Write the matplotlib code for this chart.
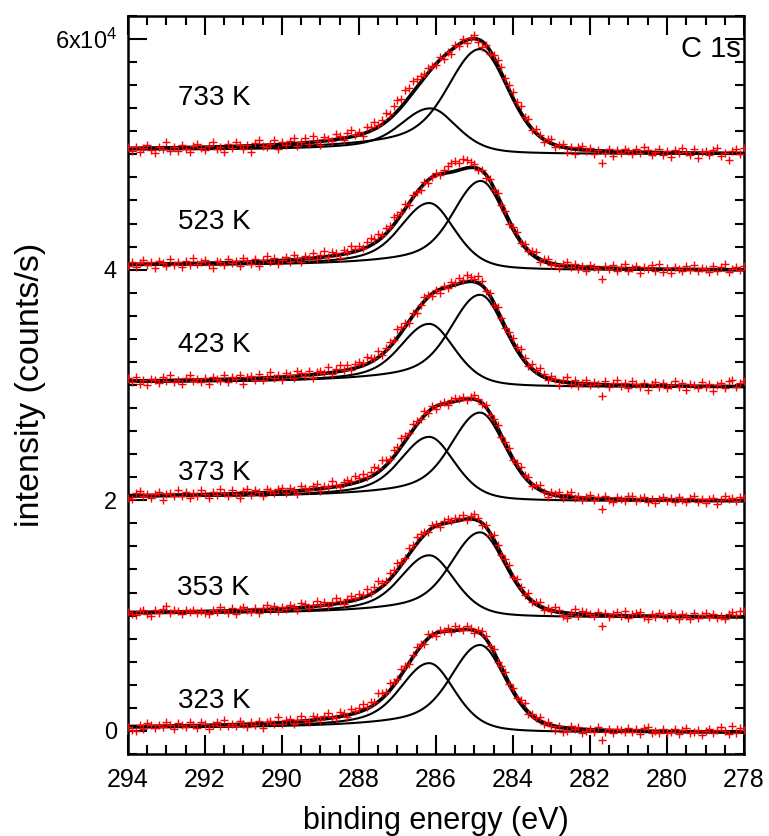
import numpy as np
import matplotlib
matplotlib.use("Agg")
import matplotlib.pyplot as plt
from matplotlib.ticker import MultipleLocator, FixedLocator, FixedFormatter

plt.rcParams['font.family'] = ['Liberation Sans', 'DejaVu Sans']
plt.rcParams['mathtext.fontset'] = 'custom'
plt.rcParams['mathtext.rm'] = 'Liberation Sans'
plt.rcParams['mathtext.it'] = 'Liberation Sans:italic'

# ---------------- data ----------------
temps = ['323 K', '353 K', '373 K', '423 K', '523 K', '733 K']
offsets = [0, 10000, 20000, 30000, 40000, 50000]

# component 1 (~286.1 eV) and component 2 (~284.85 eV): position, height, FWHM
c1_pos = [286.17, 286.17, 286.17, 286.17, 286.17, 286.14]
c1_height = [5780, 5200, 5360, 5230, 5590, 3730]
c1_fwhm = [1.55, 1.55, 1.55, 1.55, 1.55, 1.6]
c2_pos = [284.85, 284.85, 284.85, 284.85, 284.83, 284.85]
c2_height = [7500, 7300, 7600, 7900, 7650, 9000]
c2_fwhm = [1.58, 1.58, 1.58, 1.6, 1.52, 1.75]
# background level at 278 eV and 294 eV relative to offset
bg_low = [-150, -160, -90, -190, -60, 20]
bg_high = [230, 130, 260, 200, 320, 360]

# measured points: residuals from the fit (units of 18 counts), 0.1 eV steps from 294 eV
res323 = [-4,-18,-22,9,-12,14,4,-10,8,-6,18,3,-14,12,6,-8,20,1,-12,15,
          8,-16,3,13,-5,22,-7,4,-9,17,2,-13,10,-4,15,-20,6,12,-3,28,
          -6,11,16,-10,7,24,2,-8,19,12,-4,14,27,6,-2,20,15,-9,24,10,
          18,32,8,22,14,40,26,12,34,20,8,30,16,-4,10,24,12,-8,20,6,
          -12,10,4,16,-6,22,12,-4,18,6,-10,8,20,14,-8,12,-14,6,16,-4,
          10,-6,14,20,-12,8,2,16,-8,12,-4,-18,6,-22,-14,10,-2,8,-16,-6,
          4,-10,12,-48,-8,6,-14,10,2,-6,16,-3,8,-12,14,20,-7,3,-9,11,
          -5,-2,13,-11,6,18,-8,1,10,-13,4,15,-6,9,24,3,-8,28,-4,18,
          10]
res353 = [3,-9,-14,6,12,-7,-18,10,-2,15,28,-5,8,4,-11,9,-3,7,-8,2,
          -6,-12,5,-4,20,3,-9,12,-15,6,18,2,-7,11,-13,8,22,-4,14,-8,
          10,-2,16,6,-10,21,14,-4,9,24,3,18,-6,12,28,10,-8,14,22,8,
          26,14,32,8,24,40,18,12,30,22,36,16,10,28,20,34,24,14,-4,12,
          8,-10,14,20,4,18,10,22,-6,12,26,14,-8,10,-14,18,6,-4,14,20,
          -2,16,8,-10,22,-6,10,18,-12,6,-4,20,12,-16,-24,4,22,-8,14,10,
          2,-6,14,-52,12,-8,6,18,-4,22,-10,8,16,20,-4,-12,10,-2,18,4,
          -8,14,6,-14,11,2,-10,16,-5,9,20,-3,12,-7,4,-11,15,24,8,28,
          26]
res373 = [-10,-16,14,20,-4,9,-11,5,18,-22,7,12,-6,24,-3,15,-14,8,-8,21,
          3,-17,11,-5,25,6,-12,17,-1,-20,10,22,-9,14,4,-15,19,7,-6,13,
          20,-8,16,5,-14,22,10,-3,18,26,-10,12,4,28,8,-6,16,24,12,32,
          18,30,10,24,36,20,44,28,14,32,22,40,26,12,30,18,6,20,-6,10,
          -12,4,10,-8,12,18,6,14,-4,10,20,8,-6,12,-10,6,14,-8,10,18,
          -6,12,20,4,16,-10,8,22,-2,-18,10,4,16,-8,12,26,-4,10,-12,6,
          18,-8,8,-50,14,-2,-14,10,4,-8,16,20,-6,8,12,-10,3,-16,6,15,
          -4,9,-10,17,2,-6,13,19,-9,5,-12,8,14,-15,3,22,7,11,-2,16,
          14]
res423 = [12,-5,20,-14,6,-22,9,3,-10,16,-3,25,-8,1,-18,11,27,-6,4,-12,
          8,-20,15,5,-9,22,-15,10,-2,18,-24,7,13,-7,20,-11,3,26,-4,9,
          -13,17,6,-8,24,11,-5,20,-16,9,15,3,27,-9,12,30,5,22,-3,18,
          26,12,34,20,8,30,-4,16,25,10,40,28,18,-6,12,-12,4,20,8,-10,
          6,-15,10,-4,18,8,25,14,30,22,12,35,20,-5,10,-12,16,4,-8,12,
          20,10,28,14,-6,22,8,30,12,-10,16,6,-18,10,24,-8,14,-14,5,18,
          -6,13,2,-55,17,-10,9,22,-4,11,-15,20,6,-9,14,-22,8,19,-5,12,
          -12,7,23,-3,15,-17,10,4,-8,21,-1,13,-20,6,18,-7,25,30,-4,16,
          28]
res523 = [-8,10,-15,4,18,-6,9,-20,12,2,-11,23,-4,7,-16,13,-9,26,-2,5,
          15,-7,-25,11,3,-13,19,-3,8,-18,22,6,-10,14,-21,9,27,-5,12,-14,
          4,18,-9,21,7,-12,16,2,24,-6,13,28,-3,19,10,-15,22,8,30,14,
          20,6,26,35,18,30,12,28,16,38,25,10,22,-6,14,4,-10,8,-15,2,
          10,-6,18,30,42,48,36,50,40,28,15,-8,4,-14,6,-10,12,-5,8,-18,
          5,14,-9,10,-4,16,22,-12,8,18,-6,2,-15,9,20,-3,14,-11,6,-20,
          12,4,-8,-55,10,-5,16,-14,7,21,-9,3,15,-18,11,-2,19,-7,24,-12,
          6,-16,13,1,-10,17,-4,23,-8,9,2,-13,18,-6,11,25,-9,4,14,-3,
          20]
res733 = [5,-12,8,-20,3,14,-9,-25,6,-4,30,-15,2,-18,11,-7,-22,9,17,-3,
          -14,6,24,-10,1,-27,13,-5,19,8,-16,4,-30,12,26,-2,-11,7,21,-19,
          10,-6,15,27,-13,3,22,-8,31,5,-17,18,9,-4,25,12,-10,20,33,6,
          14,-9,28,19,36,11,24,40,22,45,52,38,60,48,55,42,30,18,25,8,
          -5,12,-14,6,-20,10,-8,15,-12,5,20,-10,-25,3,-18,12,25,30,18,22,
          28,15,30,10,24,-6,18,8,-12,14,22,-9,5,16,-18,7,-24,11,20,-4,
          9,-15,4,-60,-8,13,-20,6,-5,12,3,-11,17,-6,24,10,-13,2,19,-9,
          8,-21,14,-3,22,5,-12,18,-26,4,11,-7,16,26,-14,3,-30,9,21,-5,
          25]
residuals = [res323, res353, res373, res423, res523, res733]
residual_unit = 18  # counts per residual unit

# ---------------- layout ----------------
label_x = 291.77
label_y = [2580, 12370, 22360, 33430, 44140, 54850]


def line_shape(E, c, h, fwhm, eta=0.35, tail=2.0):
    d = E - c
    w = fwhm / 2.0
    g = np.exp(-np.log(2) * (d / w) ** 2)
    wl = np.where(d > 0, w * tail, w)
    lor = 1.0 / (1.0 + (d / wl) ** 2)
    return h * ((1 - eta) * g + eta * lor)


E_fine = np.linspace(278, 294, 1601)

fig = plt.figure(figsize=(7.69, 8.36), dpi=100)
ax = fig.add_axes([0.1664, 0.0981, 0.8011, 0.8828])

for k in range(len(temps)):
    p1 = line_shape(E_fine, c1_pos[k], c1_height[k], c1_fwhm[k])
    p2 = line_shape(E_fine, c2_pos[k], c2_height[k], c2_fwhm[k])
    tot = p1 + p2
    cum = np.concatenate([[0], np.cumsum(0.5 * (tot[1:] + tot[:-1]) * np.diff(E_fine))])
    frac = cum / cum[-1]
    bg = offsets[k] + bg_low[k] + (bg_high[k] - bg_low[k]) * frac
    ax.plot(E_fine, bg + p1, color='black', lw=1.5, zorder=2)
    ax.plot(E_fine, bg + p2, color='black', lw=1.5, zorder=2)
    ax.plot(E_fine, bg + tot, color='black', lw=2.6, zorder=3)

    res = np.array(residuals[k], dtype=float) * residual_unit
    E_pts = 294 - 0.1 * np.arange(len(res))
    fit_pts = np.interp(E_pts, E_fine, bg + tot)
    ax.plot(E_pts, fit_pts + res, linestyle='none', marker='+', color='#ff0000',
            ms=5.2, mew=1.0, zorder=4)

    ax.text(label_x, label_y[k], temps[k], fontsize=20, ha='center', va='center')

ax.text(278.85, 59100, 'C 1s', fontsize=21, ha='center', va='center')

ax.set_xlim(294, 278)
ax.set_ylim(-2000, 62000)
ax.xaxis.set_major_locator(MultipleLocator(2))
ax.xaxis.set_minor_locator(MultipleLocator(0.5))
ax.yaxis.set_major_locator(FixedLocator([0, 20000, 40000, 60000]))
ax.yaxis.set_major_formatter(FixedFormatter(['0', '2', '4', r'6x10$^{4}$']))
ax.yaxis.set_minor_locator(MultipleLocator(2000))

ax.tick_params(which='both', direction='in', top=True, right=True, width=1.5,
               colors='black')
ax.tick_params(axis='x', which='major', labelsize=18, pad=10)
ax.tick_params(axis='y', which='major', labelsize=17, pad=8)
ax.tick_params(which='major', length=13.5)
ax.tick_params(which='minor', length=6.5)
for s in ax.spines.values():
    s.set_linewidth(1.8)

ax.set_xlabel('binding energy (eV)', fontsize=22, labelpad=10)
ax.set_ylabel('intensity (counts/s)', fontsize=24.5, labelpad=6)

fig.savefig('out.png', dpi=100)
